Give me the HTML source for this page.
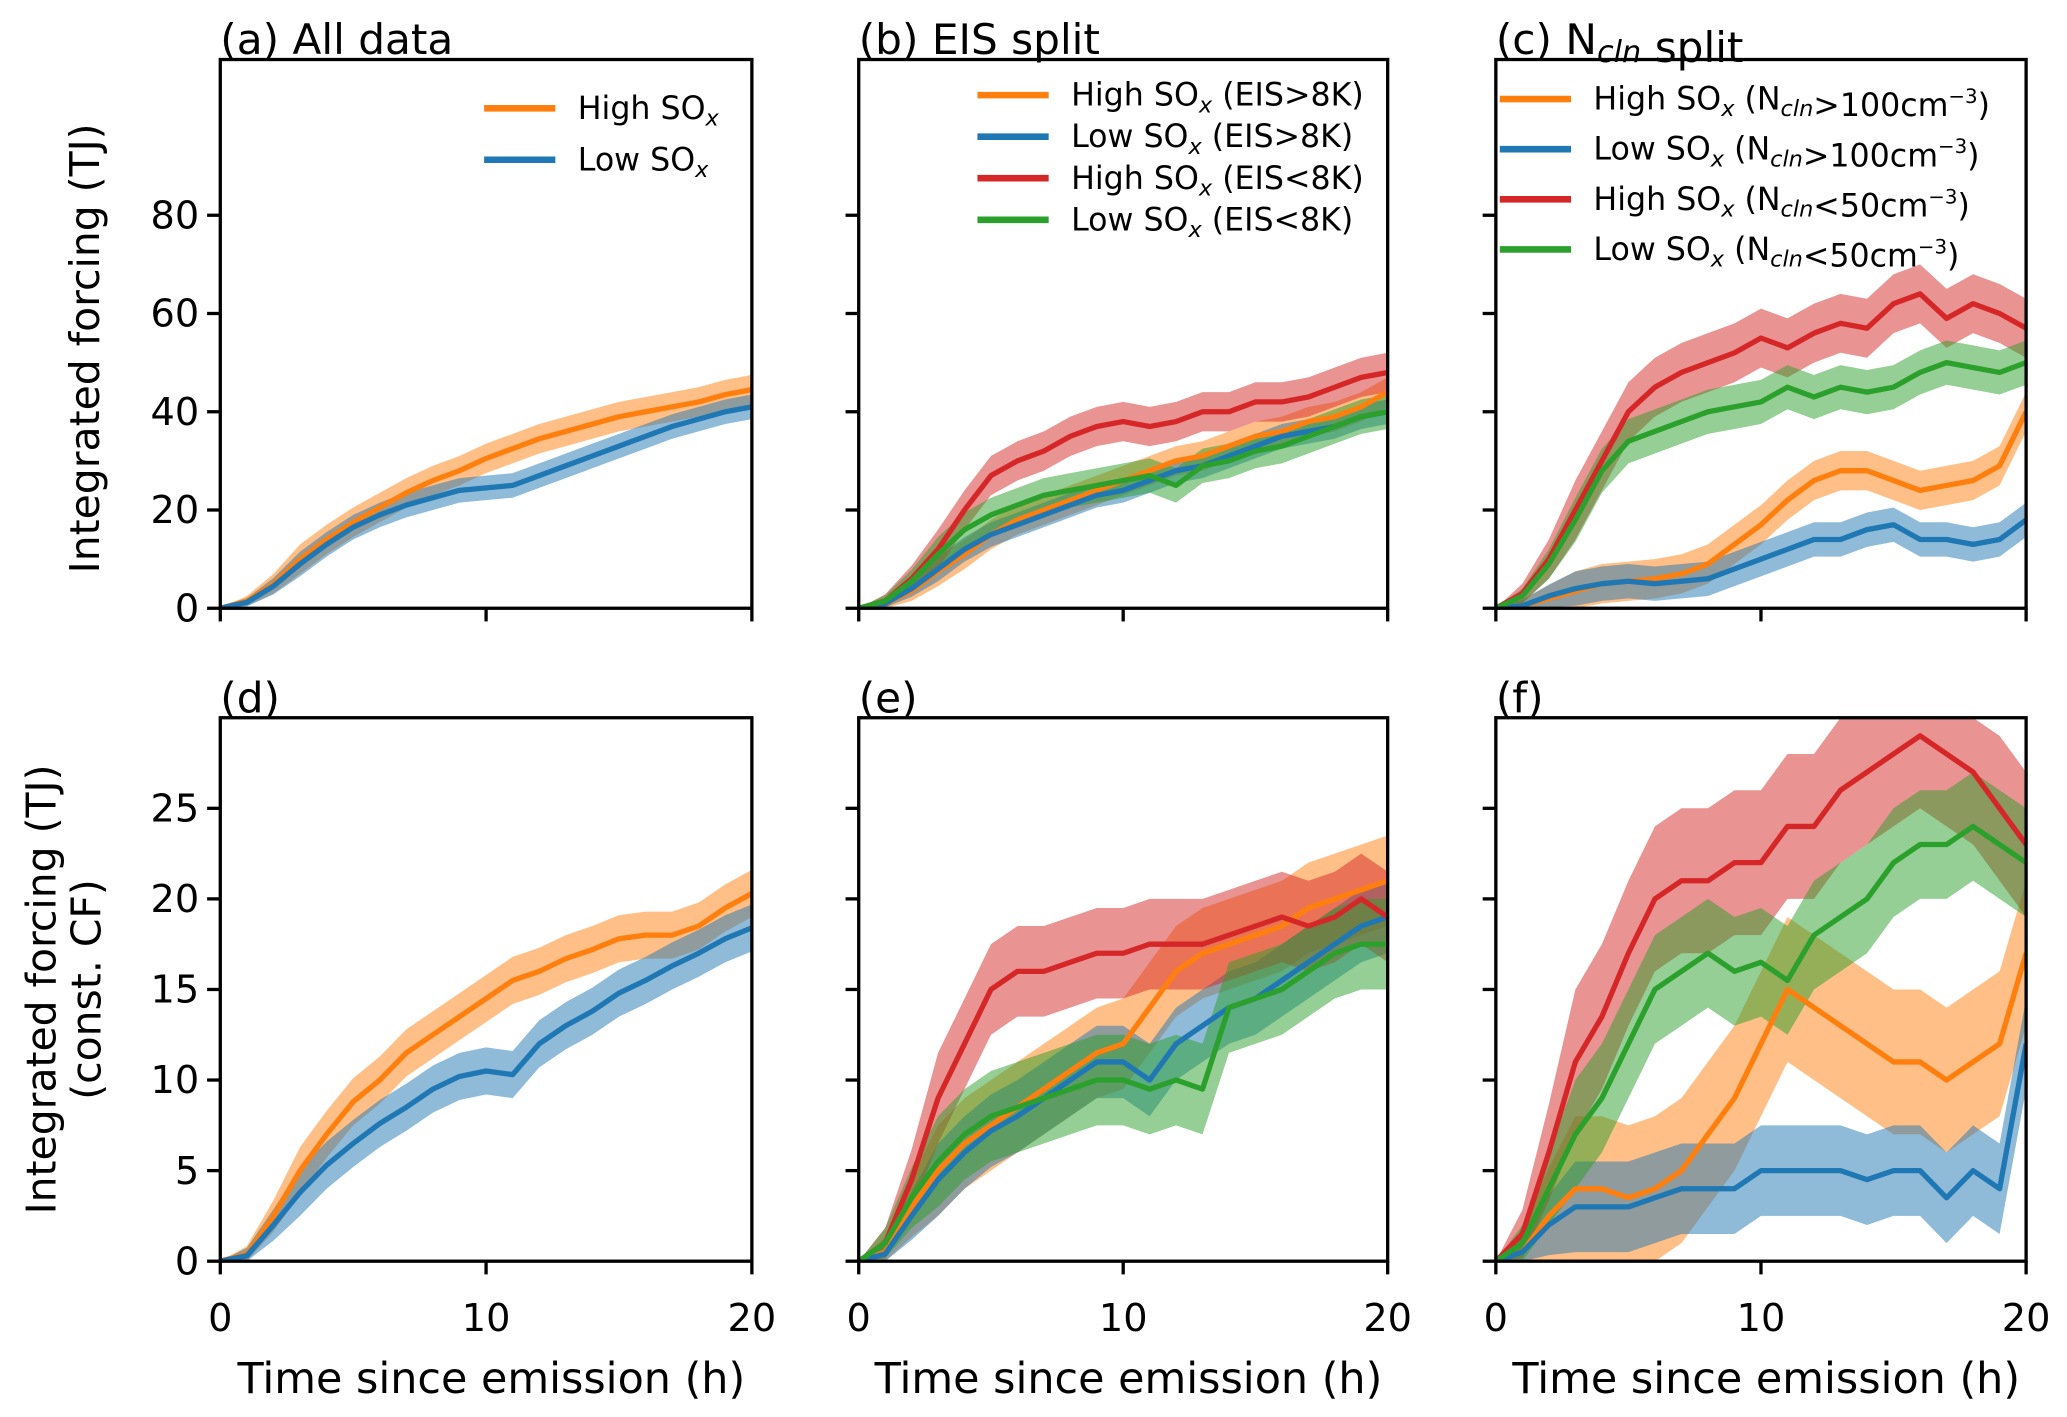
<!DOCTYPE html>
<html><head><meta charset="utf-8"><style>
html,body{margin:0;padding:0;background:#fff;}
svg{display:block;font-family:"DejaVu Sans","Liberation Sans",sans-serif;}
</style></head><body>
<svg id="fig" width="2067" height="1417" viewBox="0 0 1567 1074" xmlns="http://www.w3.org/2000/svg"></svg>
<script>
// ---- data (time in hours, values in TJ) ----
const hours = [0,1,2,3,4,5,6,7,8,9,10,11,12,13,14,15,16,17,18,19,20];
const topTicks = [0,20,40,60,80];
const botTicks = [0,5,10,15,20,25];
const xTicks = [0,10,20];
// (a)
const aHigh = [0,1.5,5,10,14,17.5,20.5,23.5,26,28,30.5,32.5,34.5,36,37.5,39,40,41,42,43.5,44.5];
const aLow  = [0,1.2,4.5,9,13,16.5,19,21,22.5,24,24.5,25,27,29,31,33,35,37,38.5,40,41];
// (b)
const bHighHi = [0,1,3.5,7.5,11,15,18,20,22,24,26,28,30,31,33,35,36,38,39,41,44];
const bLowHi  = [0,1,4,8,12,15,17,19,21,23,24,26,28,29,31,33,35,36,37,39,40];
const bHighLo = [0,1.5,6,12,20,27,30,32,35,37,38,37,38,40,40,42,42,43,45,47,48];
const bLowLo  = [0,1.5,5.5,11,16,19,21,23,24,25,26,27,25,29,30,32,33,35,37,39,40];
// (c)
const cHighHi = [0,0.5,2,3.5,5,5.5,6,7,9,13,17,22,26,28,28,26,24,25,26,29,40];
const cLowHi  = [0,0.5,2.5,4,5,5.5,5,5.5,6,8,10,12,14,14,16,17,14,14,13,14,18];
const cHighLo = [0,3,10,20,30,40,45,48,50,52,55,53,56,58,57,62,64,59,62,60,57];
const cLowLo  = [0,2.5,9,18,28,34,36,38,40,41,42,45,43,45,44,45,48,50,49,48,50];
// (d)
const dHigh = [0,0.4,2.5,5,7,8.8,10,11.5,12.5,13.5,14.5,15.5,16,16.7,17.2,17.8,18,18,18.5,19.5,20.3];
const dLow  = [0,0.3,2,3.8,5.3,6.5,7.6,8.5,9.5,10.2,10.5,10.3,12,13,13.8,14.8,15.5,16.3,17,17.8,18.4];
// (e)
const eHighHi = [0,0.5,3,5,6.5,7.5,8.5,9.5,10.5,11.5,12,14,16,17,17.5,18,18.5,19.5,20,20.5,21];
const eLowHi  = [0,0.4,2.5,4.5,6,7.2,8,9,10,11,11,10,12,13,14,14.5,15.5,16.5,17.5,18.5,19];
const eHighLo = [0,1,4.5,9,12,15,16,16,16.5,17,17,17.5,17.5,17.5,18,18.5,19,18.5,19,20,19];
const eLowLo  = [0,1,3.5,5.5,7,8,8.5,9,9.5,10,10,9.5,10,9.5,14,14.5,15,16,17,17.5,17.5];
// (f)
const fHighHi = [0,0.5,2.5,4,4,3.5,4,5,7,9,12,15,14,13,12,11,11,10,11,12,17];
const fLowHi  = [0,0.5,2,3,3,3,3.5,4,4,4,5,5,5,5,4.5,5,5,3.5,5,4,12];
const fHighLo = [0,1.5,6,11,13.5,17,20,21,21,22,22,24,24,26,27,28,29,28,27,25,23];
const fLowLo  = [0,1,4,7,9,12,15,16,17,16,16.5,15.5,18,19,20,22,23,23,24,23,22];

const C = {o:'#ff7f0e', b:'#1f77b4', r:'#d62728', g:'#2ca02c'};
const NS='http://www.w3.org/2000/svg';
const svg=document.getElementById('fig');
function mk(tag,attrs,parent){const e=document.createElementNS(NS,tag);for(const k in attrs)e.setAttribute(k,attrs[k]);(parent||svg).appendChild(e);return e;}

const cols=[[167,570],[651,1052],[1134,1536]];
const rows=[{top:45,bot:461,max:111.7,ticks:topTicks},{top:544,bot:956,max:30,ticks:botTicks}];

function panel(ci,ri,series,title,legend){
  const [x0,x1]=cols[ci]; const R=rows[ri];
  const sx=t=>x0+(t/20)*(x1-x0);
  const sy=v=>R.bot-(Math.min(v,R.max)/R.max)*(R.bot-R.top);
  const g=mk('g',{});
  
  
  const cp='clip'+ci+ri;
  const cpe=mk('clipPath',{id:cp},g);mk('rect',{x:x0,y:R.top,width:x1-x0,height:R.bot-R.top},cpe);
  const plot=mk('g',{'clip-path':'url(#'+cp+')'},g);
  series.forEach(s=>{
    const up=[],dn=[];
    hours.forEach((t,i)=>{const e=s.err*Math.min(1,t/3);up.push(sx(t)+','+sy(s.v[i]+e));dn.unshift(sx(t)+','+sy(Math.max(0,s.v[i]-e)));});
    const band=mk('polygon',{points:up.concat(dn).join(' '),fill:s.c,'fill-opacity':0.5,stroke:'none'},plot);
    
    
  });
  series.forEach(s=>{
    const pts=hours.map((t,i)=>sx(t)+','+sy(s.v[i])).join(' ');
    const l=mk('polyline',{points:pts,fill:'none',stroke:s.c,'stroke-width':4,'stroke-linejoin':'round'},plot);
    
    
  });
  const fr=mk('rect',{x:x0,y:R.top,width:x1-x0,height:R.bot-R.top,fill:'none',stroke:'#000','stroke-width':2.5},g);
  
  
  R.ticks.forEach(v=>{
    const y=sy(v);
    mk('line',{x1:x0-10,x2:x0,y1:y,y2:y,stroke:'#000','stroke-width':2.5},g);
    if(ci===0){const t=mk('text',{x:x0-16,y:y+10,'font-size':29,'text-anchor':'end'},g);t.textContent=v;
      
      }
  });
  xTicks.forEach(v=>{
    const x=sx(v);
    mk('line',{x1:x,x2:x,y1:R.bot,y2:R.bot+10,stroke:'#000','stroke-width':2.5},g);
    if(ri===1){const t=mk('text',{x:x,y:R.bot+53,'font-size':29,'text-anchor':'middle'},g);t.textContent=v;
      
      }
  });
  if(ri===1){const t=mk('text',{x:(x0+x1)/2+4,y:1056,'font-size':32.5,'text-anchor':'middle'},g);t.textContent='Time since emission (h)';
    
    }
  const tt=mk('text',{x:x0,y:R.top-4,'font-size':32},g);tt.innerHTML=title.html;
  
  
  if(legend){legend.items.forEach((it,i)=>{
    const y=legend.y0+i*legend.dy;
    const le=mk('g',{},g);
    
    
    mk('line',{x1:legend.x,x2:legend.x+54,y1:y,y2:y,stroke:it.c,'stroke-width':5},le);
    const t=mk('text',{x:legend.x+71,y:y+8,'font-size':24},le);t.innerHTML=it.html;
  });}
}
const sub='<tspan font-size="17" dy="5" font-style="italic">x</tspan><tspan dy="-5"> </tspan>';
const SOx='SO'+sub;
const ncl='N<tspan font-size="17" dy="5" font-style="italic">cln</tspan><tspan dy="-5"></tspan>';
const nclT='N<tspan font-size="23" dy="6" font-style="italic">cln</tspan><tspan dy="-6"></tspan>';
const cm3='cm<tspan font-size="15" dy="-10">−3</tspan><tspan dy="10">)</tspan>';
const legA=[{c:C.o,html:'High '+SOx},{c:C.b,html:'Low '+SOx}];
const legB=[{c:C.o,html:'High '+SOx+'(EIS&gt;8K)'},{c:C.b,html:'Low '+SOx+'(EIS&gt;8K)'},{c:C.r,html:'High '+SOx+'(EIS&lt;8K)'},{c:C.g,html:'Low '+SOx+'(EIS&lt;8K)'}];
const legC=[{c:C.o,html:'High '+SOx+'('+ncl+'&gt;100'+cm3},{c:C.b,html:'Low '+SOx+'('+ncl+'&gt;100'+cm3},{c:C.r,html:'High '+SOx+'('+ncl+'&lt;50'+cm3},{c:C.g,html:'Low '+SOx+'('+ncl+'&lt;50'+cm3}];

panel(0,0,[{name:'high-sox',v:aHigh,c:C.o,err:3},{name:'low-sox',v:aLow,c:C.b,err:2.5}],{id:'a',html:'(a) All data'},{x:367,y0:82,dy:39,items:legA});
panel(1,0,[{name:'high-sox-eis-high',v:bHighHi,c:C.o,err:3},{name:'low-sox-eis-high',v:bLowHi,c:C.b,err:2.5},{name:'high-sox-eis-low',v:bHighLo,c:C.r,err:4},{name:'low-sox-eis-low',v:bLowLo,c:C.g,err:3.5}],{id:'b',html:'(b) EIS split'},{x:741,y0:72,dy:31.5,items:legB});
panel(2,0,[{name:'high-sox-ncln-high',v:cHighHi,c:C.o,err:4},{name:'low-sox-ncln-high',v:cLowHi,c:C.b,err:3.5},{name:'high-sox-ncln-low',v:cHighLo,c:C.r,err:6},{name:'low-sox-ncln-low',v:cLowLo,c:C.g,err:4.5}],{id:'c',html:'(c) '+nclT+' split'},{x:1137,y0:75,dy:38,items:legC});
panel(0,1,[{name:'high-sox',v:dHigh,c:C.o,err:1.3},{name:'low-sox',v:dLow,c:C.b,err:1.3}],{id:'d',html:'(d)'},null);
panel(1,1,[{name:'high-sox-eis-high',v:eHighHi,c:C.o,err:2.5},{name:'low-sox-eis-high',v:eLowHi,c:C.b,err:2},{name:'high-sox-eis-low',v:eHighLo,c:C.r,err:2.5},{name:'low-sox-eis-low',v:eLowLo,c:C.g,err:2.5}],{id:'e',html:'(e)'},null);
panel(2,1,[{name:'high-sox-ncln-high',v:fHighHi,c:C.o,err:4},{name:'low-sox-ncln-high',v:fLowHi,c:C.b,err:2.5},{name:'high-sox-ncln-low',v:fHighLo,c:C.r,err:4},{name:'low-sox-ncln-low',v:fLowLo,c:C.g,err:3}],{id:'f',html:'(f)'},null);

const y1=mk('text',{x:0,y:0,'font-size':31,'text-anchor':'middle',transform:'translate(75,264) rotate(-90)'});
y1.textContent='Integrated forcing (TJ)';


const y2=mk('text',{x:0,y:0,'font-size':31,'text-anchor':'middle',transform:'translate(42,750) rotate(-90)'});
y2.textContent='Integrated forcing (TJ)';


const y3=mk('text',{x:0,y:0,'font-size':31,'text-anchor':'middle',transform:'translate(76,750) rotate(-90)'});
y3.textContent='(const. CF)';


</script>
</body></html>
